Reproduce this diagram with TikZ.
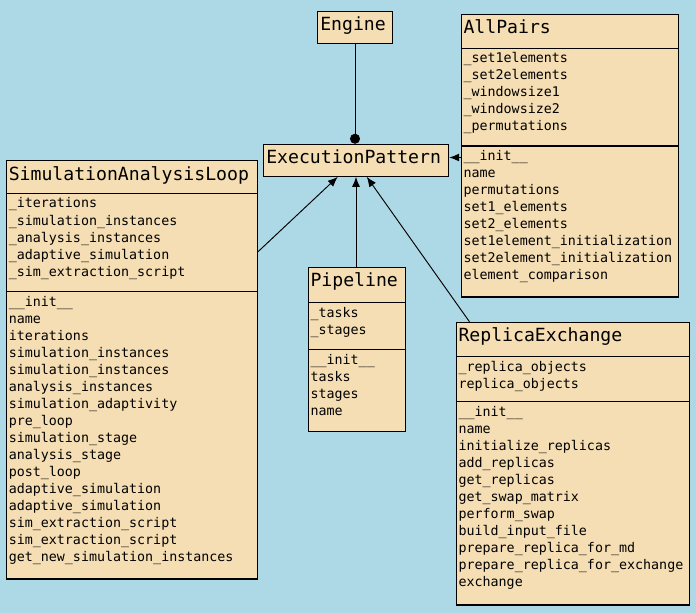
\documentclass[tikz,border=0pt]{standalone}
\usepackage{fontspec}
\setmonofont{DejaVu Sans Mono}
\usetikzlibrary{arrows.meta,calc,fit}
\definecolor{bgblue}{HTML}{ADD8E6}
\definecolor{boxfill}{HTML}{F5DEB3}
\begin{document}
\begin{tikzpicture}[x=0.75pt,y=-0.75pt,
  cls/.style={draw=black, fill=boxfill, line width=0.8pt, inner sep=0pt},
  ttl/.style={anchor=base west, inner sep=0pt, font=\ttfamily\fontsize{13.6}{16}\selectfont},
  txt/.style={anchor=base west, inner sep=0pt, font=\ttfamily\fontsize{10}{12}\selectfont},
  sepline/.style={line width=0.8pt},
  conn/.style={line width=0.7pt},
  arr/.style={conn, -{Latex[length=7.5pt,width=6pt]}}]
\fill[bgblue] (0,0) rectangle (696,613);
\useasboundingbox (0,0) rectangle (696,613);

% Engine
\node[cls, fit={(317.3,11.3) (392.7,43.3)}] (eng) {};
\node[ttl] (eng-t) at (320,30.7) {Engine};

% ExecutionPattern
\node[cls, fit={(263.3,144.3) (448.7,176.3)}] (ep) {};
\node[ttl] (ep-t) at (266,163.7) {ExecutionPattern};

% AllPairs
\node[cls, fit={(461.3,14.3) (678.7,297)}] (ap) {};
\node[ttl] (ap-t) at (463.3,33.8) {AllPairs};
\draw[sepline] (ap.west |- 0,48.3) -- (ap.east |- 0,48.3);
\draw[sepline] (ap.west |- 0,146) -- (ap.east |- 0,146);
\foreach \s [count=\i] in {\_set1elements,\_set2elements,\_windowsize1,\_windowsize2,\_permutations}
  \node[txt] (ap-a\i) at (463.3,{63+17*(\i-1)}) {\s};
\foreach \s [count=\i] in {\_\_init\_\_,name,permutations,set1\_elements,set2\_elements,set1element\_initialization,set2element\_initialization,element\_comparison}
  \node[txt] (ap-m\i) at (463.3,{160.7+17*(\i-1)}) {\s};

% SimulationAnalysisLoop
\node[cls, fit={(6.7,160.7) (257.5,579)}] (sal) {};
\node[ttl] (sal-t) at (8.5,180.2) {SimulationAnalysisLoop};
\draw[sepline] (sal.west |- 0,193.3) -- (sal.east |- 0,193.3);
\draw[sepline] (sal.west |- 0,291.7) -- (sal.east |- 0,291.7);
\foreach \s [count=\i] in {\_iterations,\_simulation\_instances,\_analysis\_instances,\_adaptive\_simulation,\_sim\_extraction\_script}
  \node[txt] (sal-a\i) at (8.5,{208+17*(\i-1)}) {\s};
\foreach \s [count=\i] in {\_\_init\_\_,name,iterations,simulation\_instances,simulation\_instances,analysis\_instances,simulation\_adaptivity,pre\_loop,simulation\_stage,analysis\_stage,post\_loop,adaptive\_simulation,adaptive\_simulation,sim\_extraction\_script,sim\_extraction\_script,get\_new\_simulation\_instances}
  \node[txt] (sal-m\i) at (8.5,{306.4+17*(\i-1)}) {\s};

% Pipeline
\node[cls, fit={(308.3,267.3) (405.7,431.3)}] (pl) {};
\node[ttl] (pl-t) at (310.3,286.8) {Pipeline};
\draw[sepline] (pl.west |- 0,302.3) -- (pl.east |- 0,302.3);
\draw[sepline] (pl.west |- 0,349.3) -- (pl.east |- 0,349.3);
\foreach \s [count=\i] in {\_tasks,\_stages}
  \node[txt] (pl-a\i) at (310.3,{317+17*(\i-1)}) {\s};
\foreach \s [count=\i] in {\_\_init\_\_,tasks,stages,name}
  \node[txt] (pl-m\i) at (310.3,{364+17*(\i-1)}) {\s};

% ReplicaExchange
\node[cls, fit={(456.3,322.3) (689.3,605)}] (re) {};
\node[ttl] (re-t) at (458.3,341.8) {ReplicaExchange};
\draw[sepline] (re.west |- 0,356.7) -- (re.east |- 0,356.7);
\draw[sepline] (re.west |- 0,401.3) -- (re.east |- 0,401.3);
\foreach \s [count=\i] in {\_replica\_objects,replica\_objects}
  \node[txt] (re-a\i) at (458.3,{371.4+17*(\i-1)}) {\s};
\foreach \s [count=\i] in {\_\_init\_\_,name,initialize\_replicas,add\_replicas,get\_replicas,get\_swap\_matrix,perform\_swap,build\_input\_file,prepare\_replica\_for\_md,prepare\_replica\_for\_exchange,exchange}
  \node[txt] (re-m\i) at (458.3,{416+17*(\i-1)}) {\s};

% Connectors
\draw[conn, -{Circle[length=7.5pt]}] (eng.south) -- (eng.south |- ep.north);
\draw[arr] (ap.west |- 0,157.5) -- (ep.east |- 0,157.5);
\draw[arr] (sal.east |- 0,251.7) -- ($(ep.south west)+(75,0)$);
\draw[arr] (pl.north -| 356,0) -- (ep.south -| 356,0);
\draw[arr] ($(re.north west)+(13.7,0)$) -- ($(ep.south west)+(104,0)$);
\end{tikzpicture}
\end{document}
